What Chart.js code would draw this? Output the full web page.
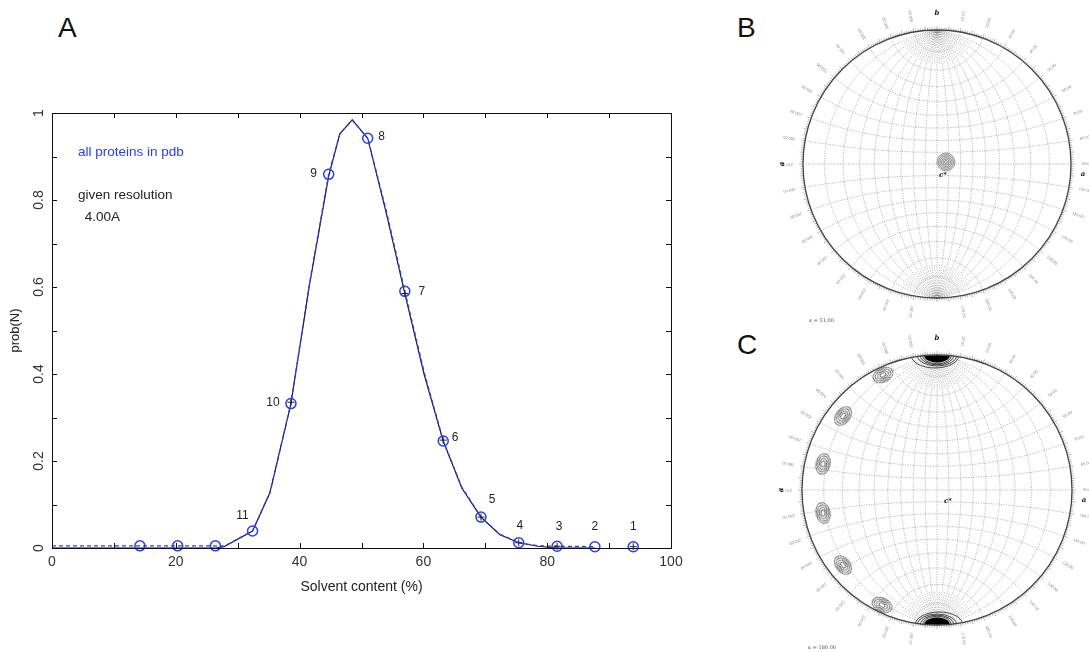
<!DOCTYPE html>
<html><head><meta charset="utf-8">
<script src="https://cdn.jsdelivr.net/npm/chart.js@4.4.1/dist/chart.umd.min.js"></script>
<style>
html,body{margin:0;padding:0;background:#fff;width:1089px;height:652px;overflow:hidden;font-family:"Liberation Sans",Arial,sans-serif;}
.panel{position:absolute;font-size:28px;color:#111;line-height:1;font-family:"Liberation Sans",Arial,sans-serif;}
canvas{position:absolute;}
</style></head><body>
<div class="panel" style="left:58px;top:14px">A</div>
<div class="panel" style="left:737px;top:14px">B</div>
<div class="panel" style="left:737px;top:331px">C</div>
<canvas id="cA" width="720" height="652" style="left:0;top:0"></canvas>
<canvas id="cB" width="359" height="326" style="left:730px;top:0"></canvas>
<canvas id="cC" width="359" height="326" style="left:730px;top:326px"></canvas>
<script>
// ---------- Panel A data ----------
const solventX      = [0, 14.2, 20.3, 26.4, 27.8, 32.4, 35.2, 38.6, 41.6, 44.7, 46.5, 48.5, 51.0, 54.0, 57.0, 60.1, 63.2, 66.2, 69.3, 72.3, 75.4, 78.5, 81.6, 87.7];
const allPdbProb    = [0.005,0.005,0.005,0.005,0.004,0.039,0.127,0.332,0.608,0.859,0.952,0.984,0.942,0.775,0.590,0.405,0.246,0.140,0.071,0.032,0.012,0.005,0.004,0.003];
const givenResProb  = [0,0,0,0,0.003,0.039,0.127,0.332,0.605,0.855,0.952,0.984,0.942,0.770,0.585,0.400,0.246,0.138,0.071,0.031,0.012,0.004,0,0];
const markerX       = [14.2, 20.3, 26.4, 32.4, 38.6, 44.7, 51.0, 57.0, 63.2, 69.3, 75.4, 81.6, 87.7, 93.9];
const markerProb    = [0.005,0.005,0.005,0.039,0.332,0.859,0.942,0.590,0.246,0.071,0.012,0.004,0.003,0.003];
const markerLabels  = ['', '', '', '11','10','9','8','7','6','5','4','3','2','1'];
const givenResMarkX = [38.6, 57.0, 63.2, 69.3, 75.4, 81.6, 93.9];
const givenResMarkY = [0.335, 0.585, 0.248, 0.071, 0.012, 0.004, 0.003];
const xTickStep = 20, yTickStep = 0.2;

// ---------- Panels B / C data ----------
const netGridDeg  = [-80,-70,-60,-50,-40,-30,-20,-10,0,10,20,30,40,50,60,70,80];
const rimLabelDeg = [10,20,30,40,50,60,70,80,90,100,110,120,130,140,150,160,170,190,200,210,220,230,240,250,260,270,280,290,300,310,320,330,340,350];
const peakBX = [0.067];
const peakBY = [0.015];
const peakCX = [0, -0.400, -0.696, -0.844, -0.844, -0.696, -0.407, 0];
const peakCY = [1, 0.852, 0.548, 0.193, -0.170, -0.556, -0.852, -1];
const kappaB = '\u03ba = 51.00';
const kappaC = '\u03ba = 180.00';

const FAM = '"Liberation Sans", Arial, sans-serif';
const BLUE = '#2b3cf0';

// ---------- Panel A ----------
const frameA = {
  id: 'frameA',
  afterDraw(chart) {
    const {ctx, chartArea: a, scales: {x, y}} = chart;
    ctx.save();
    ctx.strokeStyle = '#111'; ctx.lineWidth = 1;
    ctx.strokeRect(Math.round(a.left) + 0.5, Math.round(a.top) + 0.5, Math.round(a.right - a.left), Math.round(a.bottom - a.top));
    const seg = (x1, y1, x2, y2) => { ctx.beginPath(); ctx.moveTo(x1, y1); ctx.lineTo(x2, y2); ctx.stroke(); };
    const xv = x.ticks.map(t => t.value), yv = y.ticks.map(t => t.value);
    const xs = [], ys = [];
    xv.forEach((v, i) => { xs.push(v); if (i < xv.length - 1) xs.push((v + xv[i + 1]) / 2); });
    yv.forEach((v, i) => { ys.push(v); if (i < yv.length - 1) ys.push((v + yv[i + 1]) / 2); });
    xs.forEach(v => { const p = Math.round(x.getPixelForValue(v)) + 0.5; seg(p, a.bottom, p, a.bottom - 5); seg(p, a.top, p, a.top + 5); });
    ys.forEach(v => { const p = Math.round(y.getPixelForValue(v)) + 0.5; seg(a.left, p, a.left + 5, p); seg(a.right, p, a.right - 5, p); });
    // annotations
    ctx.font = '13.5px ' + FAM; ctx.textBaseline = 'middle'; ctx.textAlign = 'left';
    ctx.fillStyle = BLUE;
    ctx.fillText('all proteins in pdb', x.getPixelForValue(4.2), y.getPixelForValue(0.910));
    ctx.fillStyle = '#222';
    ctx.fillText('given resolution', x.getPixelForValue(4.2), y.getPixelForValue(0.811));
    ctx.fillText('4.00A', x.getPixelForValue(5.3), y.getPixelForValue(0.760));
    // point numbers
    const offs = {'11':[-10,-15],'10':[-18,-1],'9':[-15,-1],'8':[14,-2],'7':[17,0],'6':[12,-3],'5':[11,-17],'4':[1,-17],'3':[2,-20],'2':[0,-20],'1':[0,-20]};
    const meta = chart.getDatasetMeta(2);
    ctx.font = '12px ' + FAM; ctx.textAlign = 'center'; ctx.fillStyle = '#222';
    meta.data.forEach((pt, i) => {
      const lab = markerLabels[i];
      if (!lab) return;
      const o = offs[lab];
      ctx.fillText(lab, pt.x + o[0], pt.y + o[1]);
    });
    ctx.restore();
  }
};

new Chart(document.getElementById('cA'), {
  type: 'line',
  data: {
    datasets: [
      { label: 'given resolution', order: 3, data: solventX.map((v, i) => ({x: v, y: givenResProb[i]})),
        borderColor: '#111', borderWidth: 1.1, pointRadius: 0, tension: 0, fill: false },
      { label: 'all proteins in pdb', order: 2, data: solventX.map((v, i) => ({x: v, y: allPdbProb[i]})),
        borderColor: BLUE, borderWidth: 1.4, borderDash: [4, 3], pointRadius: 0, tension: 0, fill: false },
      { label: 'markers', order: 1, data: markerX.map((v, i) => ({x: v, y: markerProb[i]})), showLine: false,
        pointStyle: 'circle', pointRadius: 5, pointBorderWidth: 1.5, pointBorderColor: BLUE,
        pointBackgroundColor: 'rgba(0,0,0,0)', clip: false },
      { label: 'markers2', order: 0, data: givenResMarkX.map((v, i) => ({x: v, y: givenResMarkY[i]})), showLine: false,
        pointStyle: 'cross', pointRadius: 3.5, pointBorderWidth: 1, pointBorderColor: '#222', clip: false }
    ]
  },
  options: {
    responsive: false, animation: false, events: [],
    layout: {padding: {left: 0, top: 113, right: 49, bottom: 54}},
    plugins: {legend: {display: false}, tooltip: {enabled: false}},
    scales: {
      x: {type: 'linear', min: 0, max: 100, position: 'bottom',
          grid: {display: false, drawTicks: false}, border: {display: false},
          ticks: {stepSize: xTickStep, padding: 6, maxRotation: 0, font: {size: 14, family: FAM}, color: '#333'},
          title: {display: true, text: 'Solvent content (%)', font: {size: 14, family: FAM}, color: '#222', padding: {top: 0, bottom: 2}},
          afterFit(s) { s.height = 50; }},
      y: {type: 'linear', min: 0, max: 1, position: 'left',
          grid: {display: false, drawTicks: false}, border: {display: false},
          ticks: {stepSize: yTickStep, padding: 3, minRotation: 90, maxRotation: 90, crossAlign: 'center',
                  font: {size: 14, family: FAM}, color: '#333', callback: v => String(+v.toFixed(1))},
          title: {display: true, text: 'prob(N)', font: {size: 13, family: FAM}, color: '#222', padding: {top: 8, bottom: 0}},
          afterFit(s) { s.width = 52; }}
    }
  },
  plugins: [frameA]
});

// ---------- Panels B / C ----------
const D = Math.PI / 180;
function stereo(lat, lon) {
  const f = lat * D, l = lon * D, k = 1 + Math.cos(f) * Math.cos(l);
  return [Math.cos(f) * Math.sin(l) / k, Math.sin(f) / k];
}
function makeNetPlugin(cfg) {
  return {
    id: 'net' + cfg.name,
    beforeDatasetsDraw(chart) {
      const {ctx, scales: {x, y}} = chart;
      const cx = x.getPixelForValue(0), cy = y.getPixelForValue(0), R = x.getPixelForValue(1) - cx;
      const P = (u, v) => [x.getPixelForValue(u), y.getPixelForValue(v)];
      ctx.save();
      ctx.strokeStyle = 'rgba(120,120,120,0.75)'; ctx.lineWidth = 0.7; ctx.setLineDash([1.2, 1.3]);
      const poly = pts => { ctx.beginPath(); pts.forEach((p, i) => { const q = P(p[0], p[1]); i ? ctx.lineTo(q[0], q[1]) : ctx.moveTo(q[0], q[1]); }); ctx.stroke(); };
      netGridDeg.forEach(lon => { const pts = []; for (let la = -90; la <= 90; la += 2) pts.push(stereo(la, lon)); poly(pts); });
      netGridDeg.forEach(lat => { const pts = []; for (let lo = -90; lo <= 90; lo += 2) pts.push(stereo(lat, lo)); poly(pts); });
      // finer meridians near the poles
      netGridDeg.forEach(lon => {
        if (lon === 80) return;
        const l2 = lon + 5;
        const a = [], b = [];
        for (let la = 74; la <= 90; la += 2) { a.push(stereo(la, l2)); b.push(stereo(-la, l2)); }
        poly(a); poly(b);
      });
      ctx.restore();
      ctx.save();
      ctx.beginPath(); ctx.arc(cx, cy, R, 0, 2 * Math.PI); ctx.clip();
    },
    afterDatasetsDraw(chart) {
      const {ctx, scales: {x, y}} = chart;
      ctx.restore();
      const cx = x.getPixelForValue(0), cy = y.getPixelForValue(0), R = x.getPixelForValue(1) - cx;
      ctx.save();
      ctx.strokeStyle = '#444'; ctx.lineWidth = 1.3;
      ctx.beginPath(); ctx.arc(cx, cy, R, 0, 2 * Math.PI); ctx.stroke();
      ctx.strokeStyle = 'rgba(70,70,70,0.8)'; ctx.lineWidth = 0.5;
      for (let d = 0; d < 360; d += 1) {
        const t = d * D, len = d % 5 === 0 ? 4 : 2.5;
        ctx.beginPath();
        ctx.moveTo(cx + R * Math.sin(t), cy - R * Math.cos(t));
        ctx.lineTo(cx + (R + len) * Math.sin(t), cy - (R + len) * Math.cos(t));
        ctx.stroke();
      }
      ctx.fillStyle = '#888'; ctx.font = '4px ' + FAM; ctx.textAlign = 'center'; ctx.textBaseline = 'middle';
      rimLabelDeg.forEach(d => {
        const t = d * D, rr = R + 16;
        ctx.save();
        ctx.translate(cx + rr * Math.sin(t), cy - rr * Math.cos(t));
        ctx.rotate(t - Math.PI / 2);
        ctx.fillText(d.toFixed(2), 0, 0);
        ctx.restore();
      });
      ctx.fillStyle = '#111';
      ctx.font = 'italic bold 7px "DejaVu Serif", serif';
      ctx.fillText('b', cx, cy - R - 17);
      ctx.fillText('a', cx + R + 12, cy + 10);
      ctx.fillText('c*', cx + cfg.cOff, cy + 11);
      ctx.save(); ctx.translate(cx - R - 21, cy); ctx.rotate(-Math.PI / 2); ctx.fillText('a', 0, 0); ctx.restore();
      ctx.fillStyle = '#555'; ctx.font = '5px "DejaVu Serif", serif'; ctx.textAlign = 'left';
      ctx.fillText(cfg.kappa, cx - R + 6, cy + R + 23);
      ctx.restore();
    }
  };
}
function contourImg(rings, color, lw, core, half) {
  const w = Math.ceil(rings[0][0] * 2 + 8), h = Math.ceil(rings[0][1] * 2 + 6);
  const c = document.createElement('canvas'); c.width = w; c.height = h;
  const g = c.getContext('2d');
  g.translate(w / 2, h / 2);
  if (half) { g.beginPath(); g.rect(-w / 2, 0, w, h / 2); g.clip(); }
  if (core) { g.fillStyle = core[2]; g.beginPath(); g.ellipse(0, 0, core[0], core[1], 0, 0, 2 * Math.PI); g.fill(); }
  g.strokeStyle = color; g.lineWidth = lw;
  rings.forEach(r => { g.beginPath(); g.ellipse(r[2] || 0, 0, r[0], r[1], 0, 0, 2 * Math.PI); g.stroke(); });
  return c;
}
const imgB = contourImg([[9,9],[7.5,7.5],[6,6],[4.5,4.5],[3,3],[1.5,1.5]], '#8a8a8a', 0.8, [9, 9, 'rgba(160,160,160,0.35)'], false);
const imgSide = contourImg([[10.5,7],[8.2,5.3],[5.8,3.6],[3.3,2]], '#3a3a3a', 0.8, null, false);
const imgPole = contourImg([[24,13,-2],[20,11],[17,9.8],[14.5,8.8]], '#222', 0.8, [13, 7.5, '#000'], true);

function rotFromPos(px, py) { return Math.atan2(-py, px) / D + 90; }
const scatterOpts = pad => ({
  responsive: false, animation: false, events: [],
  layout: {padding: pad},
  plugins: {legend: {display: false}, tooltip: {enabled: false}},
  scales: {x: {type: 'linear', min: -1, max: 1, display: false}, y: {type: 'linear', min: -1, max: 1, display: false}}
});
new Chart(document.getElementById('cB'), {
  type: 'scatter',
  data: {datasets: [{data: peakBX.map((v, i) => ({x: v, y: peakBY[i]})), pointStyle: imgB, pointRadius: 5, clip: false}]},
  options: scatterOpts({left: 73, right: 18, top: 30, bottom: 28}),
  plugins: [makeNetPlugin({name: 'B', kappa: kappaB, cOff: 6})]
});
new Chart(document.getElementById('cC'), {
  type: 'scatter',
  data: {datasets: [{data: peakCX.map((v, i) => ({x: v, y: peakCY[i]})),
    pointStyle: ctx => Math.abs(peakCY[ctx.dataIndex]) > 0.99 ? imgPole : imgSide,
    rotation: ctx => rotFromPos(peakCX[ctx.dataIndex], peakCY[ctx.dataIndex]),
    pointRadius: 5, clip: false}]},
  options: scatterOpts({left: 72, right: 17, top: 29, bottom: 27}),
  plugins: [makeNetPlugin({name: 'C', kappa: kappaC, cOff: 11})]
});
</script>
</body></html>
